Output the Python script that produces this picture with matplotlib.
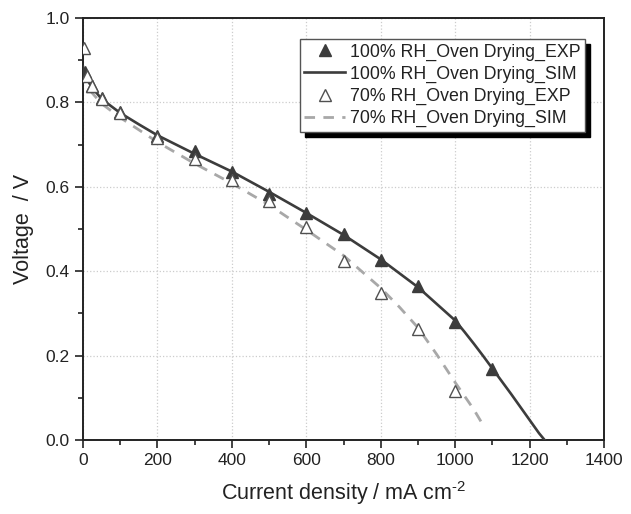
import matplotlib
matplotlib.use("Agg")
import matplotlib.pyplot as plt
import numpy as np

plt.rcParams['font.family'] = ['Liberation Sans', 'DejaVu Sans']
plt.rcParams['mathtext.fontset'] = 'custom'
plt.rcParams['mathtext.rm'] = 'Liberation Sans'
plt.rcParams['mathtext.it'] = 'Liberation Sans:italic'
plt.rcParams['mathtext.bf'] = 'Liberation Sans:bold'

# Experimental data
exp100_x = [5, 25, 50, 100, 200, 300, 400, 500, 600, 700, 800, 900, 1000, 1100]
exp100_y = [0.872, 0.84, 0.81, 0.778, 0.72, 0.685, 0.634, 0.582, 0.538, 0.488, 0.426, 0.366, 0.28, 0.168]
exp70_x = [2, 12, 25, 50, 100, 200, 300, 400, 500, 600, 700, 800, 900, 1000]
exp70_y = [0.928, 0.862, 0.84, 0.808, 0.774, 0.716, 0.665, 0.615, 0.567, 0.505, 0.425, 0.348, 0.263, 0.116]

# Simulated curves
sim100_x = [0, 5, 10, 25, 50, 100, 150, 200, 300, 400, 500, 600, 700, 800, 900, 1000,
            1025, 1050, 1075, 1100, 1125, 1150, 1175, 1200, 1225, 1240]
sim100_y = [0.885, 0.866, 0.855, 0.835, 0.808, 0.775, 0.748, 0.722, 0.678, 0.636, 0.588, 0.538,
            0.486, 0.428, 0.362, 0.283, 0.256, 0.228, 0.199, 0.169, 0.139, 0.109, 0.078, 0.047,
            0.016, 0.0]
sim70_x = [0, 5, 10, 25, 50, 100, 150, 200, 300, 400, 500, 600, 700, 800, 850, 900, 950, 1000,
           1050, 1075]
sim70_y = [0.87, 0.85, 0.84, 0.822, 0.797, 0.764, 0.735, 0.706, 0.655, 0.608, 0.557, 0.498,
           0.437, 0.36, 0.315, 0.266, 0.203, 0.136, 0.072, 0.035]

fig = plt.figure(figsize=(6.31, 5.14), dpi=100)
ax = fig.add_axes([0.1315, 0.144, 0.826, 0.821])

c_dark = '#3c3c3c'
c_light = '#a8a8a8'

ax.plot(exp100_x, exp100_y, linestyle='none', marker='^', markersize=8.5,
        color=c_dark, markeredgecolor=c_dark, label='100% RH_Oven Drying_EXP', zorder=4)
ax.plot(sim100_x, sim100_y, '-', color=c_dark, lw=1.9, label='100% RH_Oven Drying_SIM', zorder=3)
ax.plot(exp70_x, exp70_y, linestyle='none', marker='^', markersize=8.5,
        markerfacecolor='white', markeredgecolor='#505050', markeredgewidth=1.0,
        label='70% RH_Oven Drying_EXP', zorder=5)
ax.plot(sim70_x, sim70_y, '--', color=c_light, lw=2, dashes=(3.8, 3),
        label='70% RH_Oven Drying_SIM', zorder=3)

ax.set_xlim(0, 1400)
ax.set_ylim(0, 1.0)
ax.set_xticks(np.arange(0, 1401, 200))
ax.set_yticks(np.arange(0, 1.01, 0.2))
ax.set_yticklabels([f'{v:.1f}' for v in np.arange(0, 1.01, 0.2)])
ax.set_xticks(np.arange(100, 1400, 200), minor=True)
ax.set_yticks(np.arange(0.1, 1.0, 0.2), minor=True)
ax.tick_params(which='major', direction='out', length=6, width=1.2, labelsize=12.5,
               color='#222', labelcolor='#222')
ax.tick_params(which='minor', direction='out', length=3.5, width=1.2, color='#222')
ax.grid(True, which='major', linestyle=':', color='#cccccc', lw=0.9)
for s in ax.spines.values():
    s.set_linewidth(1.4)
    s.set_color('#222')

ax.set_xlabel(r'Current density / mA cm$^{\text{-2}}$', fontsize=15.5, labelpad=8, color='#222')
ax.set_ylabel('Voltage  / V', fontsize=15.5, labelpad=8, color='#222')

leg = ax.legend(loc='upper right', bbox_to_anchor=(0.9635, 0.95), fontsize=12.8,
                frameon=True, fancybox=False, edgecolor='#555',
                shadow={'color': 'black', 'alpha': 1.0, 'ox': 3.5, 'oy': -3.5},
                handlelength=2.3, handletextpad=0.28, borderpad=0.25, labelspacing=0.28,
                borderaxespad=0.0)
leg.get_frame().set_linewidth(1.0)
for t in leg.get_texts():
    t.set_color('#222')

fig.savefig('out.png', dpi=100)
